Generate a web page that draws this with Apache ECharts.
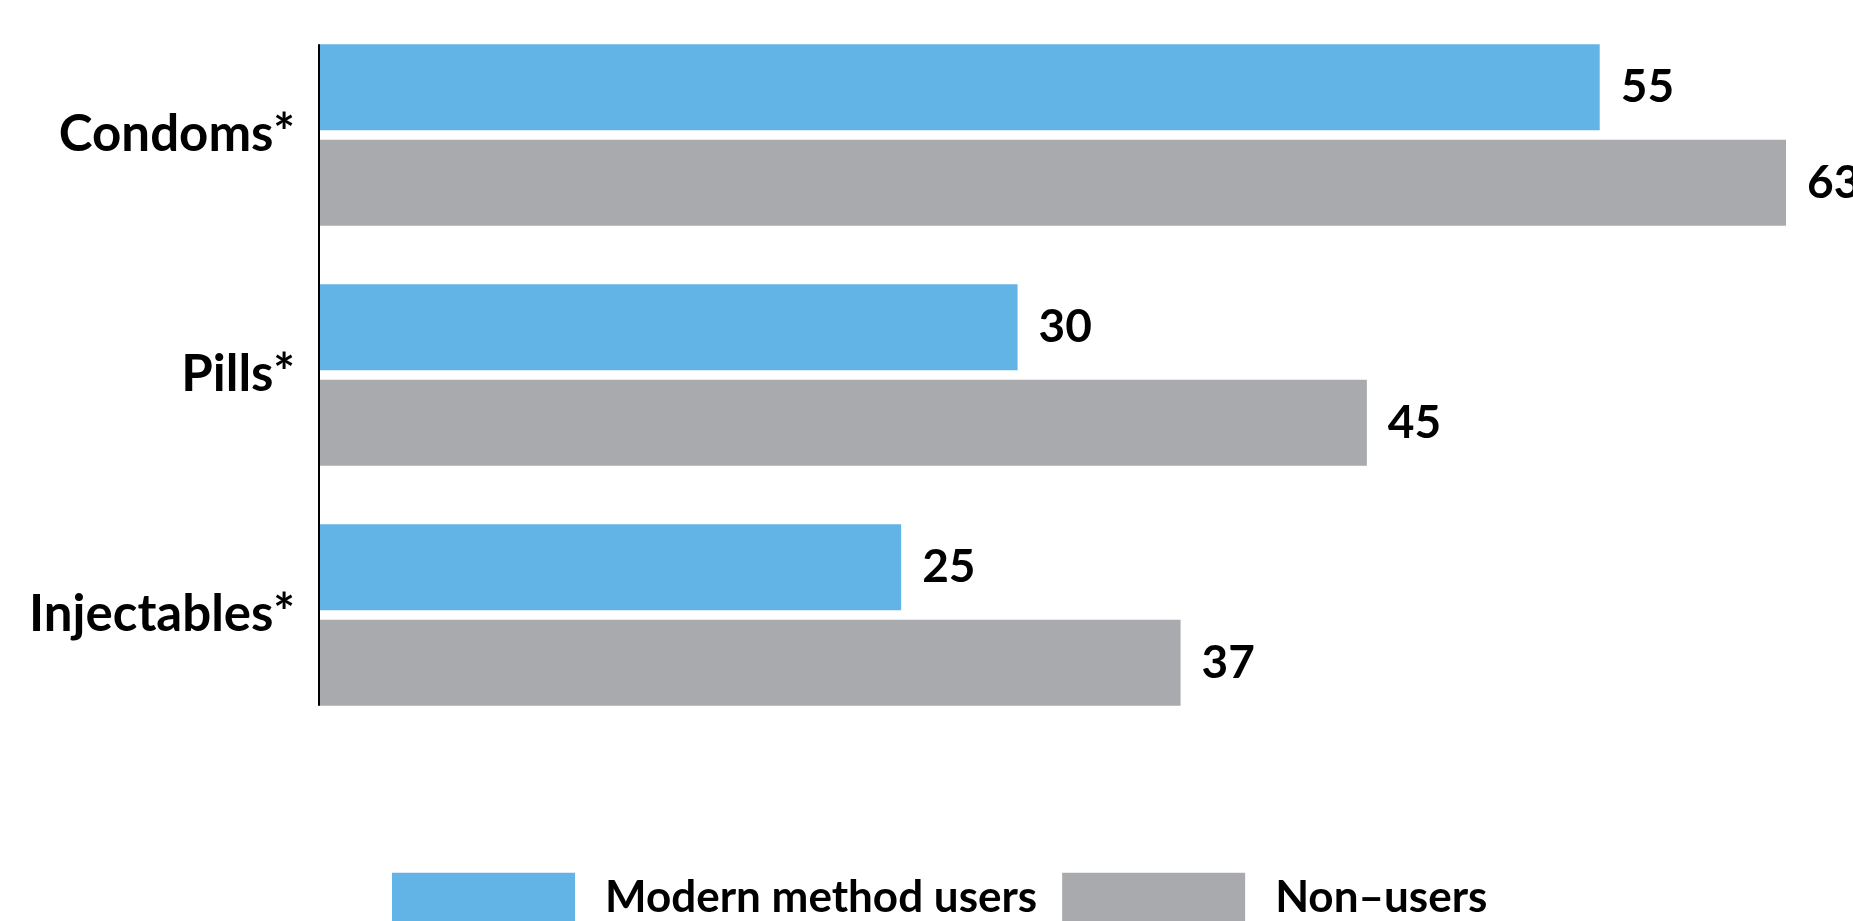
<!DOCTYPE html>
<html>
<head>
	<title></title>
	<script src="https://cdn.jsdelivr.net/npm/echarts@6/dist/echarts.min.js"></script>
	<style>
	html, body {
		margin: 0;
		height: 100%;
		background: #ffffff;
	}
	#main {
		width: 1853px;
		height: 921px;
	}
	</style>
</head>
<body>
	<div id="main"></div>
	<script>
		var categories = ['Condoms*', 'Pills*', 'Injectables*'];
		var seriesNames = ['Modern method users', 'Non\u2013users'];
		var modernUsers = [55, 30, 25];
		var nonUsers = [63, 45, 37];

		var FONT = 'Lato, "Open Sans", sans-serif';
		var barW = 86;

		var myChart = echarts.init(document.getElementById('main'));

		function valueLabel() {
			return {
				show: true,
				position: 'right',
				distance: 21,
				fontFamily: FONT,
				fontWeight: 'bold',
				fontSize: 46,
				color: '#000'
			};
		}

		var option = {
			backgroundColor: '#ffffff',
			animation: false,
			grid: {
				left: 319,
				top: 15,
				width: 1467,
				height: 720
			},
			legend: {
				left: 387,
				top: 859,
				itemWidth: 183,
				itemHeight: 50,
				itemGap: 25,
				icon: 'rect',
				textStyle: {
					fontFamily: FONT,
					fontWeight: 'bold',
					fontSize: 44,
					color: '#000',
					padding: [0, 0, 20, 25]
				},
				data: seriesNames
			},
			xAxis: {
				type: 'value',
				min: 0,
				max: 63,
				show: false,
				splitLine: { show: false }
			},
			yAxis: {
				type: 'category',
				inverse: true,
				data: categories,
				axisLine: { show: false },
				axisTick: { show: false },
				axisLabel: {
					margin: 24,
					fontFamily: FONT,
					fontWeight: 'bold',
					fontSize: 51,
					color: '#000'
				}
			},
			series: [
				{
					name: seriesNames[0],
					type: 'bar',
					data: modernUsers,
					barWidth: barW,
					barGap: '11%',
					itemStyle: { color: '#62b4e6' },
					label: valueLabel()
				},
				{
					name: seriesNames[1],
					type: 'bar',
					data: nonUsers,
					barWidth: barW,
					barGap: '11%',
					itemStyle: { color: '#a8aaad' },
					label: valueLabel()
				}
			]
		};
		myChart.setOption(option);

		// vertical axis line spanning only the bar groups
		var x0 = myChart.convertToPixel({ xAxisIndex: 0 }, 0);
		var yTop = myChart.convertToPixel({ yAxisIndex: 0 }, categories[0]);
		var yBot = myChart.convertToPixel({ yAxisIndex: 0 }, categories[categories.length - 1]);
		var half = barW + barW * 0.11 / 2;
		myChart.setOption({
			graphic: [{
				type: 'line',
				shape: { x1: x0, y1: yTop - half, x2: x0, y2: yBot + half },
				style: { stroke: '#000', lineWidth: 2 },
				z: 10
			}]
		});
	</script>
</body>
</html>
